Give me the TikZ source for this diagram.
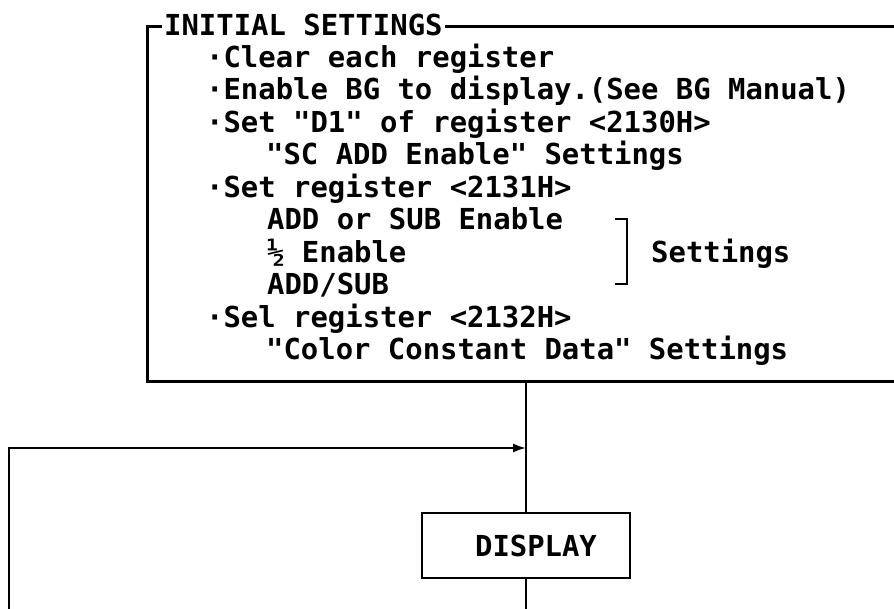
\documentclass[tikz,border=0pt]{standalone}
\usepackage{fontspec}
\newfontfamily\printfont{DejaVu Sans Mono}
\usetikzlibrary{arrows.meta,positioning}

\begin{document}
\begin{tikzpicture}[
  x=1pt, y=-1pt,
  caja/.style={rectangle, draw, line width=2.6pt, inner sep=0pt, font=\printfont\bfseries\fontsize{28.9}{32}\selectfont},
  linea/.style={anchor=base west, inner sep=0pt, font=\printfont\bfseries\fontsize{28.9}{32}\selectfont},
  conector/.style={line width=2pt},
  flecha/.style={-{Latex[length=13pt,width=9pt]}, line width=2pt}
]
\useasboundingbox (0,0) rectangle (894,609);
\clip (0,0) rectangle (894,609);

% initial settings box
\node[caja, minimum width=770pt, minimum height=355pt, anchor=north west] (ini) at (146,25) {};
\node[linea, anchor=west, fill=white, inner xsep=2pt, inner ysep=1pt] (tit) at (162,25) {INITIAL SETTINGS};
\node[linea] (t1) at (206,67.5) {·Clear each register};
\node[linea] (t2) at (206,100) {·Enable BG to display.(See BG Manual)};
\node[linea] (t3) at (206,132.5) {·Set "D1" of register <2130H>};
\node[linea] (t4) at (266,165) {"SC ADD Enable" Settings};
\node[linea] (t5) at (206,197.5) {·Set register <2131H>};
\node[linea] (t6) at (267,230) {ADD or SUB Enable};
\node[linea] (t7) at (267,262.5) {½ Enable};
\node[linea] (t8) at (267,295) {ADD/SUB};
\node[linea] (t9) at (206,327.5) {·Sel register <2132H>};
\node[linea] (t10) at (266,360) {"Color Constant Data" Settings};
\draw[line width=2.6pt] (615,219) -- (627,219) -- (627,284) -- (615,284);
\node[linea] (set) at (651,262.5) {Settings};

% display loop
\node[caja, minimum width=208pt, minimum height=65pt] (disp) at (526,545.5) {\hspace*{20pt}DISPLAY};
\coordinate (izq) at (9,615);
\coordinate (une) at (disp.north |- 0,448);
\draw[conector] (disp.north |- ini.south) -- (disp.north);
\draw[flecha] (izq) |- (une);
\draw[conector] (disp.south) -- (disp.south |- izq);
\end{tikzpicture}
\end{document}
